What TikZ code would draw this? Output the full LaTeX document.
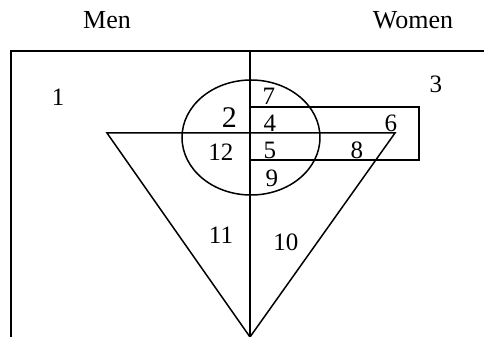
\documentclass[tikz,border=0pt]{standalone}
\usepackage{fontspec}
\setmainfont{Liberation Serif}
\usetikzlibrary{positioning}

\begin{document}
\begin{tikzpicture}[x=0.5pt,y=-0.5pt,
  line/.style={line width=0.75pt},
  num/.style={font=\fontsize{12.5}{14}\selectfont,inner sep=0pt},
  big/.style={font=\fontsize{15}{17}\selectfont,inner sep=0pt},
  head/.style={font=\fontsize{13}{15}\selectfont,inner sep=0pt}]
  \useasboundingbox (0,0) rectangle (484,337);
  % corners of the shapes
  \coordinate (tl) at (11,51);
  \coordinate (bl) at (11,337);
  \coordinate (tr) at (484,51);
  \coordinate (mtop) at (250,51);
  \coordinate (mbot) at (250,337);
  \coordinate (triL) at (107,133);
  \coordinate (triR) at (395,133);
  \coordinate (recA) at (250,107);
  \coordinate (recB) at (419,160);
  % shapes
  \draw[line] (bl) -- (tl) -- (tr);
  \draw[line] (mtop) -- (mbot);
  \draw[line] (251,137.5) ellipse [x radius=69,y radius=57.5];
  \draw[line] (recA) rectangle (recB);
  \draw[line] (triL) -- (triR) -- (mbot) -- cycle;
  % labels
  \node[head] (men) at (107,20) {Men};
  \node[head] (women) at (413,20) {Women};
  \node[num] (r1) at (58,97) {1};
  \node[big] (r2) at (229.5,118) {2};
  \node[num] (r3) at (436,84) {3};
  \node[num] (r4) at (270,123) {4};
  \node[num] (r5) at (270,150) {5};
  \node[num] (r6) at (391,123) {6};
  \node[num] (r7) at (269,96) {7};
  \node[num] (r8) at (357,150) {8};
  \node[num] (r9) at (272,178) {9};
  \node[num] (r10) at (286,242) {10};
  \node[num] (r11) at (221,235) {11};
  \node[num] (r12) at (221,152) {12};
\end{tikzpicture}
\end{document}
